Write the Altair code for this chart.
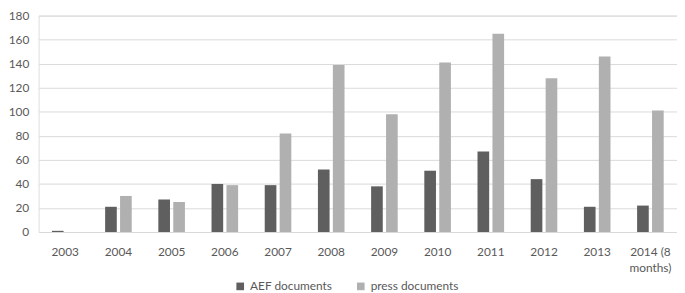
import altair as alt
import pandas as pd

years = ["2003", "2004", "2005", "2006", "2007", "2008", "2009", "2010",
         "2011", "2012", "2013", "2014 (8 months)"]
aef = [1, 21, 27, 40, 39, 52, 38, 51, 67, 44, 21, 22]
press = [0, 30, 25, 39, 82, 139, 98, 141, 165, 128, 146, 101]
series = ["AEF documents", "press documents"]
colors = ["#5f5f5f", "#b0b0b0"]

rows = []
for y, a, p in zip(years, aef, press):
    rows.append({"year": y, "series": series[0], "value": a})
    rows.append({"year": y, "series": series[1], "value": p})
df = pd.DataFrame(rows)

font = "Lato"
chart = alt.Chart(df).mark_bar().encode(
    x=alt.X("year:N", sort=years, title=None,
            scale=alt.Scale(paddingInner=0.5, paddingOuter=0.25),
            axis=alt.Axis(labelAngle=0, ticks=False, domainColor="#d9d9d9",
                          labelColor="#595959", labelFont=font, labelFontSize=12,
                          labelPadding=15, labelLineHeight=16,
                          labelExpr="datum.value == '2014 (8 months)' ? ['2014 (8', 'months)'] : datum.label")),
    xOffset=alt.XOffset("series:N", sort=series, scale=alt.Scale(paddingInner=0.22)),
    y=alt.Y("value:Q", title=None,
            scale=alt.Scale(domain=[0, 180]),
            axis=alt.Axis(values=list(range(0, 181, 20)), ticks=False, domain=False,
                          gridColor="#d9d9d9", labelColor="#595959", labelFont=font,
                          labelFontSize=12, labelPadding=10)),
    color=alt.Color("series:N", sort=series,
                    scale=alt.Scale(domain=series, range=colors),
                    legend=alt.Legend(orient="none", legendX=198, legendY=268,
                                      direction="horizontal", title=None,
                                      symbolType="square", symbolSize=60,
                                      labelFont=font, labelFontSize=12,
                                      labelColor="#595959", columnPadding=22)),
).properties(
    width=646, height=219, padding={"left": 0, "top": 0, "right": 0, "bottom": 0}
).configure_view(stroke=None).configure(background="white")

chart.save("out.html", embed_options={"renderer": "svg", "actions": False})
